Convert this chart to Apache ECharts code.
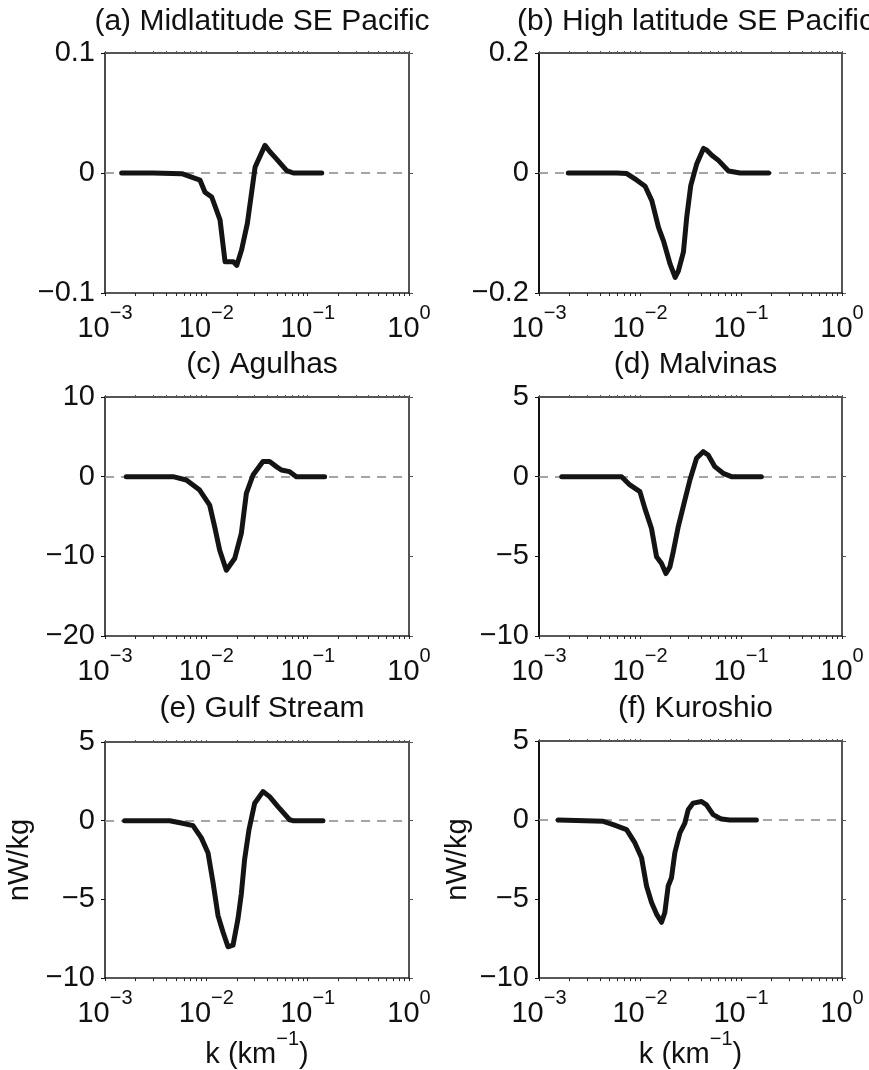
<!DOCTYPE html>
<html><head><meta charset="utf-8">
<script src="https://cdn.jsdelivr.net/npm/echarts@6/dist/echarts.min.js"></script>
<style>html,body{margin:0;padding:0;background:#fff}#c{width:869px;height:1070px}</style>
</head><body><div id="c"></div>
<script>
// ---- data ----
const titles = ['(a) Midlatitude SE Pacific', '(b) High latitude SE Pacific', '(c) Agulhas', '(d) Malvinas', '(e) Gulf Stream', '(f) Kuroshio'];

const kA = [0.00146,0.0030,0.00572,0.00867,0.0097,0.0113,0.01365,0.0153,0.0185,0.01995,0.0223,0.0254,0.0303,0.0379,0.0426,0.0477,0.0621,0.0723,0.1377];
const vA = [0,0,-0.0006,-0.006,-0.016,-0.02,-0.039,-0.074,-0.074,-0.077,-0.064,-0.042,0.005,0.023,0.0175,0.013,0.002,0,0];

const kB = [0.00195,0.00589,0.0074,0.0093,0.01124,0.01309,0.01525,0.01707,0.01988,0.0223,0.0240,0.0269,0.0290,0.0318,0.0365,0.0425,0.0459,0.0514,0.0598,0.0752,0.098,0.1875];
const vB = [0,0,-0.001,-0.012,-0.022,-0.046,-0.0905,-0.113,-0.152,-0.174,-0.163,-0.132,-0.074,-0.021,0.0156,0.041,0.038,0.0296,0.021,0.0034,0,0];

const kC = [0.00162,0.00469,0.00635,0.00859,0.01079,0.01209,0.01355,0.01575,0.01904,0.02215,0.02483,0.0289,0.0362,0.0421,0.0491,0.055,0.0664,0.0773,0.147];
const vC = [0,0,-0.42,-1.68,-3.57,-6.3,-9.23,-11.75,-10.28,-7.13,-2.1,0.21,1.89,1.89,1.26,0.84,0.63,0,0];

const kD = [0.00168,0.00344,0.00657,0.00794,0.00998,0.01117,0.0130,0.01458,0.01634,0.01805,0.01977,0.02133,0.0239,0.0278,0.0312,0.0363,0.0422,0.0473,0.0551,0.0666,0.0805,0.159];
const vD = [0,0,0,-0.52,-0.94,-1.99,-3.25,-5.03,-5.45,-6.08,-5.66,-4.72,-3.15,-1.47,-0.21,1.15,1.57,1.36,0.63,0.21,0,0];

const kE = [0.00156,0.00435,0.00566,0.00738,0.00893,0.01038,0.01164,0.01303,0.0146,0.01636,0.01834,0.02053,0.02214,0.02387,0.02636,0.02999,0.0362,0.0421,0.0509,0.0664,0.0716,0.1415];
const vE = [0,0,-0.15,-0.31,-1.09,-2.03,-3.92,-6.02,-7.07,-8.01,-7.91,-6.23,-4.66,-2.45,-0.57,1.11,1.85,1.53,0.9,0.06,0,0];

const kF = [0.00155,0.00433,0.00543,0.00736,0.00891,0.01036,0.01161,0.01301,0.01458,0.01634,0.01762,0.01901,0.0205,0.02213,0.02483,0.0278,0.0300,0.0336,0.0407,0.0455,0.0530,0.0641,0.0774,0.142];
const vF = [0,-0.08,-0.29,-0.61,-1.45,-2.39,-4.17,-5.22,-5.95,-6.47,-5.85,-4.17,-3.65,-2.07,-0.82,-0.19,0.65,1.07,1.17,0.96,0.34,0.06,0,0];

const yMin  = [-0.1, -0.2, -20, -10, -10, -10];
const yMax  = [0.1, 0.2, 10, 5, 5, 5];
const yStep = [0.1, 0.2, 10, 5, 5, 5];
const xMin = 0.001, xMax = 1;
const minorTickVals = [0.001,0.002,0.003,0.004,0.005,0.006,0.007,0.008,0.009,
  0.01,0.02,0.03,0.04,0.05,0.06,0.07,0.08,0.09,
  0.1,0.2,0.3,0.4,0.5,0.6,0.7,0.8,0.9,1];
const yName = 'nW/kg';
const xName = '{n|k (km}{s|\u22121}{n|)}';

const ks = [kA,kB,kC,kD,kE,kF];
const vs = [vA,vB,vC,vD,vE,vF];

// ---- layout ----
const FONT = '"Liberation Sans", Arial, Helvetica, sans-serif';
const TXT = '#111';
const grids = [
  {left:105, top:53, width:304, height:240},
  {left:539, top:53, width:303, height:240},
  {left:105, top:397, width:304, height:239},
  {left:539, top:397, width:303, height:239},
  {left:105, top:742, width:304, height:238},
  {left:539, top:741, width:303, height:238}
];
const titleTops = [2, 2, 345, 345, 689, 689];
const yNameGaps = [0,0,0,0,71,67];

const supRich = {
  b: {fontSize:29, fontFamily:FONT, color:TXT, lineHeight:40, verticalAlign:'bottom'},
  s: {fontSize:20, fontFamily:FONT, color:TXT, lineHeight:20, verticalAlign:'top'}
};
function expLabel(v){
  const e = Math.round(Math.log10(v));
  return '{b|10}{s|' + String(e).replace('-', '\u2212') + '}';
}

const option = {
  animation:false,
  backgroundColor:'#fff',
  title: titles.map((t,i)=>({
    text:t, left: grids[i].left + grids[i].width/2, top: titleTops[i], textAlign:'center',
    textStyle:{fontSize:30, fontWeight:'normal', color:TXT, fontFamily:FONT}
  })),
  grid: grids.map(g=>Object.assign({containLabel:false}, g)),
  xAxis: [], yAxis: [], series: []
};

grids.forEach((g,i)=>{
  const bottomRow = i>=4;
  option.xAxis.push({
    type:'log', logBase:10, gridIndex:i, min:xMin, max:xMax, position:'bottom',
    axisLine:{show:true, onZero:false, lineStyle:{color:'#222', width:1.5}},
    axisTick:{show:true, length:3, lineStyle:{color:'#222', width:1}, customValues:minorTickVals},
    axisLabel:{margin:10, formatter:expLabel, rich:supRich},
    splitLine:{show:false},
    name: bottomRow ? xName : '', nameLocation:'middle', nameGap:50,
    nameTextStyle:{rich:{
      n:{fontSize:29, fontFamily:FONT, color:TXT, lineHeight:40, verticalAlign:'bottom'},
      s:{fontSize:20, fontFamily:FONT, color:TXT, lineHeight:20, verticalAlign:'top'}
    }}
  });
  option.xAxis.push({
    type:'log', logBase:10, gridIndex:i, min:xMin, max:xMax, position:'top',
    axisLine:{show:true, onZero:false, lineStyle:{color:'#555', width:2}},
    axisTick:{show:true, length:2, lineStyle:{color:'#555', width:1}, customValues:minorTickVals},
    axisLabel:{show:false}, splitLine:{show:false}
  });
  option.yAxis.push({
    type:'value', gridIndex:i, min:yMin[i], max:yMax[i], interval:yStep[i], position:'left',
    axisLine:{show:true, onZero:false, lineStyle:{color:'#111', width:(i%2? 2:1.5)}},
    axisTick:{show:true, length:4, lineStyle:{color:'#111', width:1}},
    axisLabel:{margin:10, fontSize:29, fontFamily:FONT, color:TXT,
      formatter:v=>String(Math.round(v*1000)/1000).replace('-', '\u2212')},
    splitLine:{show:false},
    name: bottomRow ? yName : '', nameLocation:'middle', nameRotate:90, nameGap:yNameGaps[i],
    nameTextStyle:{fontSize:29, fontFamily:FONT, color:TXT}
  });
  option.yAxis.push({
    type:'value', gridIndex:i, min:yMin[i], max:yMax[i], interval:yStep[i], position:'right',
    axisLine:{show:true, onZero:false, lineStyle:{color:'#555', width:2}},
    axisTick:{show:true, length:4, lineStyle:{color:'#555', width:1}},
    axisLabel:{show:false}, splitLine:{show:false}
  });
  option.series.push({
    type:'line', xAxisIndex:2*i, yAxisIndex:2*i, symbol:'none', z:3,
    data: ks[i].map((k,j)=>[k, vs[i][j]]),
    lineStyle:{color:'#141414', width:5, cap:'round', join:'round'},
    markLine:{silent:true, symbol:'none', z:1, label:{show:false},
      lineStyle:{color:'#888', type:[9,7], width:1.5},
      data:[{yAxis:0}]}
  });
});

const chart = echarts.init(document.getElementById('c'), null, {renderer:'canvas'});
chart.setOption(option);
</script>
</body></html>
